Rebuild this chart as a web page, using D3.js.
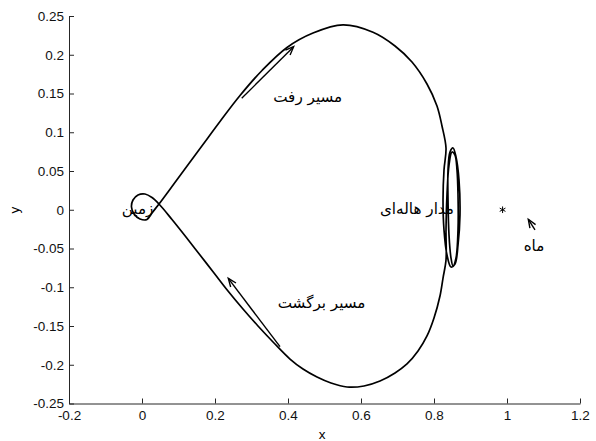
<!DOCTYPE html>
<html>
<head>
<meta charset="utf-8">
<script src="https://cdn.jsdelivr.net/npm/d3@7"></script>
<style>
    html, body { margin: 0; padding: 0; background: #fff; }
    .axis text { font-family: "Liberation Sans", Arial, sans-serif; font-size: 13.5px; fill: #111; }
    .axis path, .axis line { stroke: #262626; }
    .fa { font-family: "DejaVu Sans", sans-serif; font-size: 15.2px; fill: #000; }
</style>
</head>
<body>
<div class="chart"></div>
<script>
// tick labels
const xTicks = [-0.2, 0, 0.2, 0.4, 0.6, 0.8, 1, 1.2];
const xTickLabels = ["-0.2", "0", "0.2", "0.4", "0.6", "0.8", "1", "1.2"];
const yTicks = [-0.25, -0.2, -0.15, -0.1, -0.05, 0, 0.05, 0.1, 0.15, 0.2, 0.25];
const yTickLabels = ["-0.25", "-0.2", "-0.15", "-0.1", "-0.05", "0", "0.05", "0.1", "0.15", "0.2", "0.25"];

// outbound leg, earth -> halo
const outboundX = [0.0466, 0.0822, 0.1205, 0.1671, 0.2137, 0.2685, 0.3288, 0.3973, 0.4685, 0.5507, 0.6329, 0.6932, 0.7397, 0.7808, 0.8082, 0.8219, 0.8329];
const outboundY = [0.0074, 0.0300, 0.0545, 0.0842, 0.1139, 0.1474, 0.1797, 0.2094, 0.2280, 0.2385, 0.2290, 0.2113, 0.1906, 0.1623, 0.1339, 0.1081, 0.0797];

// halo orbit around L1
const haloX = [0.8274, 0.8247, 0.8274, 0.8356, 0.8466, 0.8575, 0.8658, 0.8712, 0.8685, 0.8603, 0.8521, 0.8438, 0.8384, 0.8384, 0.8411, 0.8466, 0.8521, 0.8603, 0.8658, 0.8658, 0.8630, 0.8575, 0.8493, 0.8411, 0.8356, 0.8329, 0.8329];
const haloY = [0.0513, 0.0126, -0.0261, -0.0584, -0.0739, -0.0700, -0.0455, -0.0068, 0.0384, 0.0681, 0.0797, 0.0745, 0.0513, 0.0126, -0.0326, -0.0623, -0.0726, -0.0623, -0.0261, 0.0190, 0.0513, 0.0706, 0.0745, 0.0577, 0.0190, -0.0261, -0.0648];

// return leg, halo -> earth
const returnX = [0.8247, 0.8164, 0.8000, 0.7808, 0.7562, 0.7260, 0.6932, 0.6521, 0.6082, 0.5616, 0.5178, 0.4795, 0.4411, 0.4055, 0.3616, 0.3178, 0.2767, 0.2356, 0.1973, 0.1589, 0.1205, 0.0822, 0.0466];
const returnY = [-0.0881, -0.1113, -0.1397, -0.1629, -0.1823, -0.1990, -0.2106, -0.2210, -0.2274, -0.2287, -0.2235, -0.2158, -0.2055, -0.1926, -0.1719, -0.1500, -0.1281, -0.1048, -0.0816, -0.0584, -0.0352, -0.0126, 0.0074];

// small loop around the earth (crossing -> crossing)
const earthLoopX = [0.0274, 0.0082, -0.0110, -0.0247, -0.0288, -0.0219, -0.0055, 0.0137, 0.0274, 0.0466];
const earthLoopY = [0.0158, 0.0203, 0.0190, 0.0126, 0.0035, -0.0055, -0.0119, -0.0126, -0.0042, 0.0074];

// moon position
const moonX = [0.9879];
const moonY = [0];

// annotation arrows, tail -> head
const arrowNames = ["outbound", "return", "moon"];
const arrowTailX = [0.2732, 0.3781, 1.0767];
const arrowTailY = [0.1438, -0.1767, -0.0261];
const arrowHeadX = [0.4155, 0.2364, 1.0584];
const arrowHeadY = [0.2104, -0.0885, -0.0123];

// labels
const labelTexts = ["مسیر رفت", "مسیر برگشت", "مدار هاله‌ای", "زمین", "ماه"];
const labelX = [0.454, 0.492, 0.7534, -0.012, 1.074];
const labelY = [0.146, -0.120, 0.001, 0.001, -0.047];

const Chart = {
    width: 596,
    height: 441,
    init: function() {
        this.svg = d3.select(".chart").append("svg")
            .attr("width", this.width)
            .attr("height", this.height);
        this.x = d3.scaleLinear().domain([-0.2, 1.2]).range([69, 580]);
        this.y = d3.scaleLinear().domain([-0.25, 0.25]).range([403.5, 16]);
        this._drawAxes();
        this._drawTrajectory();
        this._drawArrows();
        this._drawLabels();
    },
    _drawAxes: function() {
        const xAxis = d3.axisBottom(this.x)
            .tickValues(xTicks)
            .tickSizeInner(-5)
            .tickSizeOuter(0)
            .tickPadding(7)
            .tickFormat((d, i) => xTickLabels[i]);
        const yAxis = d3.axisLeft(this.y)
            .tickValues(yTicks)
            .tickSizeInner(-5)
            .tickSizeOuter(0)
            .tickPadding(5)
            .tickFormat((d, i) => yTickLabels[i]);

        this.svg.append("g")
            .attr("class", "axis")
            .attr("transform", "translate(0," + this.y.range()[0] + ")")
            .call(xAxis);
        this.svg.append("g")
            .attr("class", "axis")
            .attr("transform", "translate(" + this.x.range()[0] + ",0)")
            .call(yAxis);

        this.svg.selectAll(".axis text").attr("fill", "#111");

        this.svg.append("text")
            .attr("x", 322)
            .attr("y", 439)
            .attr("text-anchor", "middle")
            .style("font", "13.5px 'Liberation Sans', Arial, sans-serif")
            .text("x");
        this.svg.append("text")
            .attr("transform", "translate(19,210) rotate(-90)")
            .attr("text-anchor", "middle")
            .style("font", "13.5px 'Liberation Sans', Arial, sans-serif")
            .text("y");
    },
    _drawTrajectory: function() {
        // start inside the earth loop so the crossing gets a smooth tangent
        const xs = [].concat(earthLoopX.slice(7, 9), outboundX, haloX, returnX, earthLoopX);
        const ys = [].concat(earthLoopY.slice(7, 9), outboundY, haloY, returnY, earthLoopY);
        const pts = xs.map((d, i) => [d, ys[i]]);

        const line = d3.line()
            .x(d => this.x(d[0]))
            .y(d => this.y(d[1]))
            .curve(d3.curveCatmullRom.alpha(0.5));

        this.svg.append("path")
            .datum(pts)
            .attr("fill", "none")
            .attr("stroke", "#000")
            .attr("stroke-width", 1.7)
            .attr("stroke-linejoin", "round")
            .attr("d", line);

        this.svg.selectAll(".moon")
            .data(moonX.map((d, i) => [d, moonY[i]]))
            .enter()
            .append("path")
            .attr("class", "moon")
            .attr("transform", d => "translate(" + this.x(d[0]) + "," + this.y(d[1]) + ")")
            .attr("d", d3.symbol().type(d3.symbolAsterisk).size(30))
            .attr("fill", "none")
            .attr("stroke", "#000")
            .attr("stroke-width", 1);
    },
    _drawArrows: function() {
        const data = arrowNames.map((n, i) => ({
            x0: this.x(arrowTailX[i]), y0: this.y(arrowTailY[i]),
            x1: this.x(arrowHeadX[i]), y1: this.y(arrowHeadY[i])
        }));

        const g = this.svg.selectAll(".arrow")
            .data(data)
            .enter()
            .append("g")
            .attr("class", "arrow");

        g.append("line")
            .attr("x1", d => d.x0)
            .attr("y1", d => d.y0)
            .attr("x2", d => d.x1)
            .attr("y2", d => d.y1)
            .attr("stroke", "#000")
            .attr("stroke-width", 1.4);

        // arrowhead: two short strokes back from the tip
        g.append("path")
            .attr("d", d => {
                const a = Math.atan2(d.y1 - d.y0, d.x1 - d.x0);
                const len = 9, spread = 0.38;
                const p1 = [d.x1 - len * Math.cos(a - spread), d.y1 - len * Math.sin(a - spread)];
                const p2 = [d.x1 - len * Math.cos(a + spread), d.y1 - len * Math.sin(a + spread)];
                return "M" + p1 + "L" + d.x1 + "," + d.y1 + "L" + p2;
            })
            .attr("fill", "none")
            .attr("stroke", "#000")
            .attr("stroke-width", 1.4);
    },
    _drawLabels: function() {
        this.svg.selectAll(".fa")
            .data(labelTexts)
            .enter()
            .append("text")
            .attr("class", "fa")
            .attr("x", (d, i) => this.x(labelX[i]))
            .attr("y", (d, i) => this.y(labelY[i]))
            .attr("dy", ".35em") //vertical align middle
            .attr("text-anchor", "middle")
            .text(d => d);
    }
};

Chart.init();
</script>
</body>
</html>
